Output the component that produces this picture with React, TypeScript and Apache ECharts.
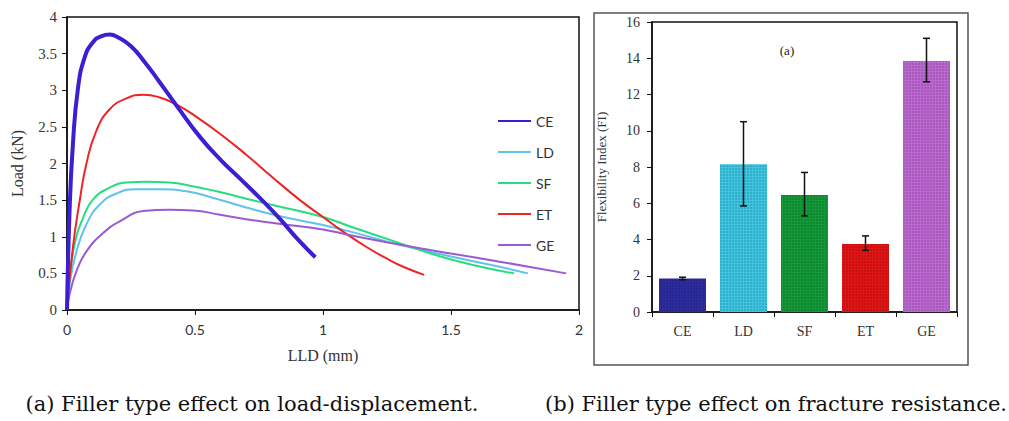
import React, { useEffect, useRef } from "react";
import * as echarts from "echarts";

// Load–displacement curves: [LLD (mm), Load (kN)]
const ceData = [[0,0],[0.01,1.35],[0.023,2.26],[0.043,3.03],[0.069,3.45],[0.1,3.65],[0.135,3.74],[0.167,3.76],[0.2,3.72],[0.25,3.6],[0.3,3.4],[0.36,3.12],[0.43,2.78],[0.52,2.36],[0.6,2.05],[0.68,1.78],[0.75,1.54],[0.83,1.25],[0.9,0.97],[0.97,0.72]];
const ldData = [[0,0],[0.01,0.35],[0.037,0.8],[0.076,1.17],[0.128,1.44],[0.193,1.59],[0.27,1.65],[0.363,1.65],[0.467,1.62],[0.572,1.53],[0.7,1.4],[0.833,1.28],[1.0,1.16],[1.107,1.07],[1.3,0.89],[1.5,0.73],[1.69,0.59],[1.8,0.5]];
const sfData = [[0,0],[0.01,0.44],[0.03,0.9],[0.063,1.26],[0.102,1.51],[0.167,1.67],[0.232,1.74],[0.31,1.75],[0.4,1.74],[0.49,1.69],[0.585,1.62],[0.7,1.52],[0.82,1.42],[1.0,1.27],[1.107,1.14],[1.302,0.91],[1.459,0.73],[1.616,0.59],[1.747,0.5]];
const etData = [[0,0],[0.023,0.85],[0.05,1.5],[0.076,2.0],[0.115,2.45],[0.167,2.74],[0.232,2.89],[0.3,2.94],[0.363,2.9],[0.43,2.8],[0.5,2.65],[0.6,2.4],[0.7,2.12],[0.8,1.82],[0.91,1.5],[1.0,1.27],[1.07,1.09],[1.17,0.86],[1.25,0.7],[1.32,0.58],[1.395,0.48]];
const geData = [[0,0],[0.01,0.21],[0.037,0.53],[0.076,0.8],[0.141,1.05],[0.206,1.21],[0.298,1.35],[0.4,1.37],[0.493,1.36],[0.598,1.3],[0.7,1.24],[0.82,1.18],[1.0,1.1],[1.107,1.02],[1.302,0.89],[1.5,0.77],[1.69,0.66],[1.95,0.5]];

const seriesNames = ["CE", "LD", "SF", "ET", "GE"];
const lineColors = ["#3B1FD3", "#5EC4EC", "#26DE7E", "#EE2424", "#9A5BD2"];

// Flexibility index bars
const fiCategories = ["CE", "LD", "SF", "ET", "GE"];
const fiValues = [1.85, 8.15, 6.45, 3.75, 13.85];
const fiLow = [1.78, 5.85, 5.3, 3.4, 12.7];
const fiHigh = [1.92, 10.5, 7.7, 4.2, 15.1];
const barColors = ["#2C2CA0", "#3CC6E2", "#139A38", "#E21414", "#BD68D3"];

const xTicks = [0, 2, 0.5];
const yTicks = [0, 4, 0.5];
const fiTicks = [0, 16, 2];

export default function App() {
  const ref = useRef<HTMLDivElement>(null);
  useEffect(() => {
    if (!ref.current) return;
    const chart = echarts.init(ref.current, undefined, { renderer: "svg" });
    const serif = "Liberation Serif";
    const lineSets = [ceData, ldData, sfData, etData, geData];
    const lineSeries = lineSets.map((d, i) => ({
      name: seriesNames[i],
      type: "line",
      xAxisIndex: 0,
      yAxisIndex: 0,
      data: d,
      smooth: 0.5,
      symbol: "none",
      showSymbol: false,
      lineStyle: { color: lineColors[i], width: i === 0 ? 4 : 2 },
      itemStyle: { color: lineColors[i] },
      z: i === 0 ? 3 : 2,
    }));
    const decal = {
      symbol: "circle",
      symbolSize: 0.55,
      dashArrayX: [2, 1],
      dashArrayY: [2, 1],
      color: "rgba(0,0,0,0.42)",
    };
    const option: any = {
      animation: false,
      backgroundColor: "#fff",
      grid: [
        { left: 67, top: 17, width: 512, height: 293, show: true, borderColor: "#111", borderWidth: 1.5 },
        { left: 652, top: 22, width: 305, height: 290, show: true, borderColor: "#111", borderWidth: 1.5 },
      ],
      legend: {
        data: seriesNames,
        orient: "vertical",
        left: 492,
        top: 109,
        itemWidth: 33,
        itemHeight: 14,
        itemGap: 17,
        itemStyle: { opacity: 0 },
        textStyle: { fontFamily: "Lato", fontSize: 14, color: "#333" },
      },
      xAxis: [
        {
          type: "value",
          gridIndex: 0,
          min: xTicks[0],
          max: xTicks[1],
          interval: xTicks[2],
          splitLine: { show: false },
          axisLine: { lineStyle: { color: "#111", width: 1.5 } },
          axisTick: { show: true, length: 5, lineStyle: { color: "#111" } },
          axisLabel: { fontFamily: "Lato", fontSize: 14, color: "#333", margin: 12 },
          name: "LLD (mm)",
          nameLocation: "middle",
          nameGap: 37,
          nameTextStyle: { fontFamily: serif, fontSize: 16, color: "#333" },
        },
        {
          type: "category",
          gridIndex: 1,
          data: fiCategories,
          axisLine: { lineStyle: { color: "#111", width: 1.5 } },
          axisTick: { show: true, length: 5, alignWithLabel: false, lineStyle: { color: "#111" } },
          axisLabel: { fontFamily: serif, fontSize: 14, color: "#333", margin: 12 },
        },
      ],
      yAxis: [
        {
          type: "value",
          gridIndex: 0,
          min: yTicks[0],
          max: yTicks[1],
          interval: yTicks[2],
          splitLine: { show: false },
          axisLine: { show: true, lineStyle: { color: "#111", width: 1.5 } },
          axisTick: { show: true, length: 5, lineStyle: { color: "#111" } },
          axisLabel: { fontFamily: serif, fontSize: 15, color: "#333", margin: 10 },
          name: "Load (kN)",
          nameLocation: "middle",
          nameGap: 42,
          nameTextStyle: { fontFamily: serif, fontSize: 16, color: "#333" },
        },
        {
          type: "value",
          gridIndex: 1,
          min: fiTicks[0],
          max: fiTicks[1],
          interval: fiTicks[2],
          splitLine: { show: false },
          axisLine: { show: true, lineStyle: { color: "#111", width: 1.5 } },
          axisTick: { show: true, length: 5, lineStyle: { color: "#111" } },
          axisLabel: { fontFamily: serif, fontSize: 14, color: "#333", margin: 12 },
          name: "Flexibility Index (FI)",
          nameLocation: "middle",
          nameGap: 44,
          nameTextStyle: { fontFamily: serif, fontSize: 13, color: "#333" },
        },
      ],
      series: [
        ...lineSeries,
        {
          name: "FI",
          type: "bar",
          xAxisIndex: 1,
          yAxisIndex: 1,
          barWidth: 47,
          data: fiValues.map((v, i) => ({
            value: v,
            itemStyle: { color: barColors[i], decal },
          })),
        },
        {
          name: "FI error",
          type: "custom",
          xAxisIndex: 1,
          yAxisIndex: 1,
          z: 5,
          data: fiCategories.map((c, i) => [i, fiLow[i], fiHigh[i]]),
          renderItem: (params: any, api: any) => {
            const idx = api.value(0);
            const lo = api.coord([idx, api.value(1)]);
            const hi = api.coord([idx, api.value(2)]);
            const cap = 3.5;
            const st = { stroke: "#111", lineWidth: 1.5 };
            return {
              type: "group",
              children: [
                { type: "line", shape: { x1: hi[0], y1: hi[1], x2: lo[0], y2: lo[1] }, style: st },
                { type: "line", shape: { x1: hi[0] - cap, y1: hi[1], x2: hi[0] + cap, y2: hi[1] }, style: st },
                { type: "line", shape: { x1: lo[0] - cap, y1: lo[1], x2: lo[0] + cap, y2: lo[1] }, style: st },
              ],
            };
          },
        },
      ],
      graphic: [
        {
          type: "rect",
          shape: { x: 594, y: 13, width: 374, height: 352 },
          style: { fill: "none", stroke: "#555", lineWidth: 1.5 },
          silent: true,
        },
        {
          type: "text",
          x: 787,
          y: 50,
          style: { text: "(a)", fontFamily: serif, fontSize: 13, fill: "#222", align: "center", verticalAlign: "middle" },
        },
        {
          type: "text",
          x: 252,
          y: 404,
          style: { text: "(a) Filler type effect on load-displacement.", fontFamily: "DejaVu Serif", fontSize: 21, fill: "#111", align: "center", verticalAlign: "middle" },
        },
        {
          type: "text",
          x: 776,
          y: 404,
          style: { text: "(b) Filler type effect on fracture resistance.", fontFamily: "DejaVu Serif", fontSize: 21, fill: "#111", align: "center", verticalAlign: "middle" },
        },
      ],
    };
    chart.setOption(option);
    return () => chart.dispose();
  }, []);
  return (
    <div
      ref={ref}
      style={{ position: "absolute", left: 0, top: 0, width: 1009, height: 421 }}
    />
  );
}
